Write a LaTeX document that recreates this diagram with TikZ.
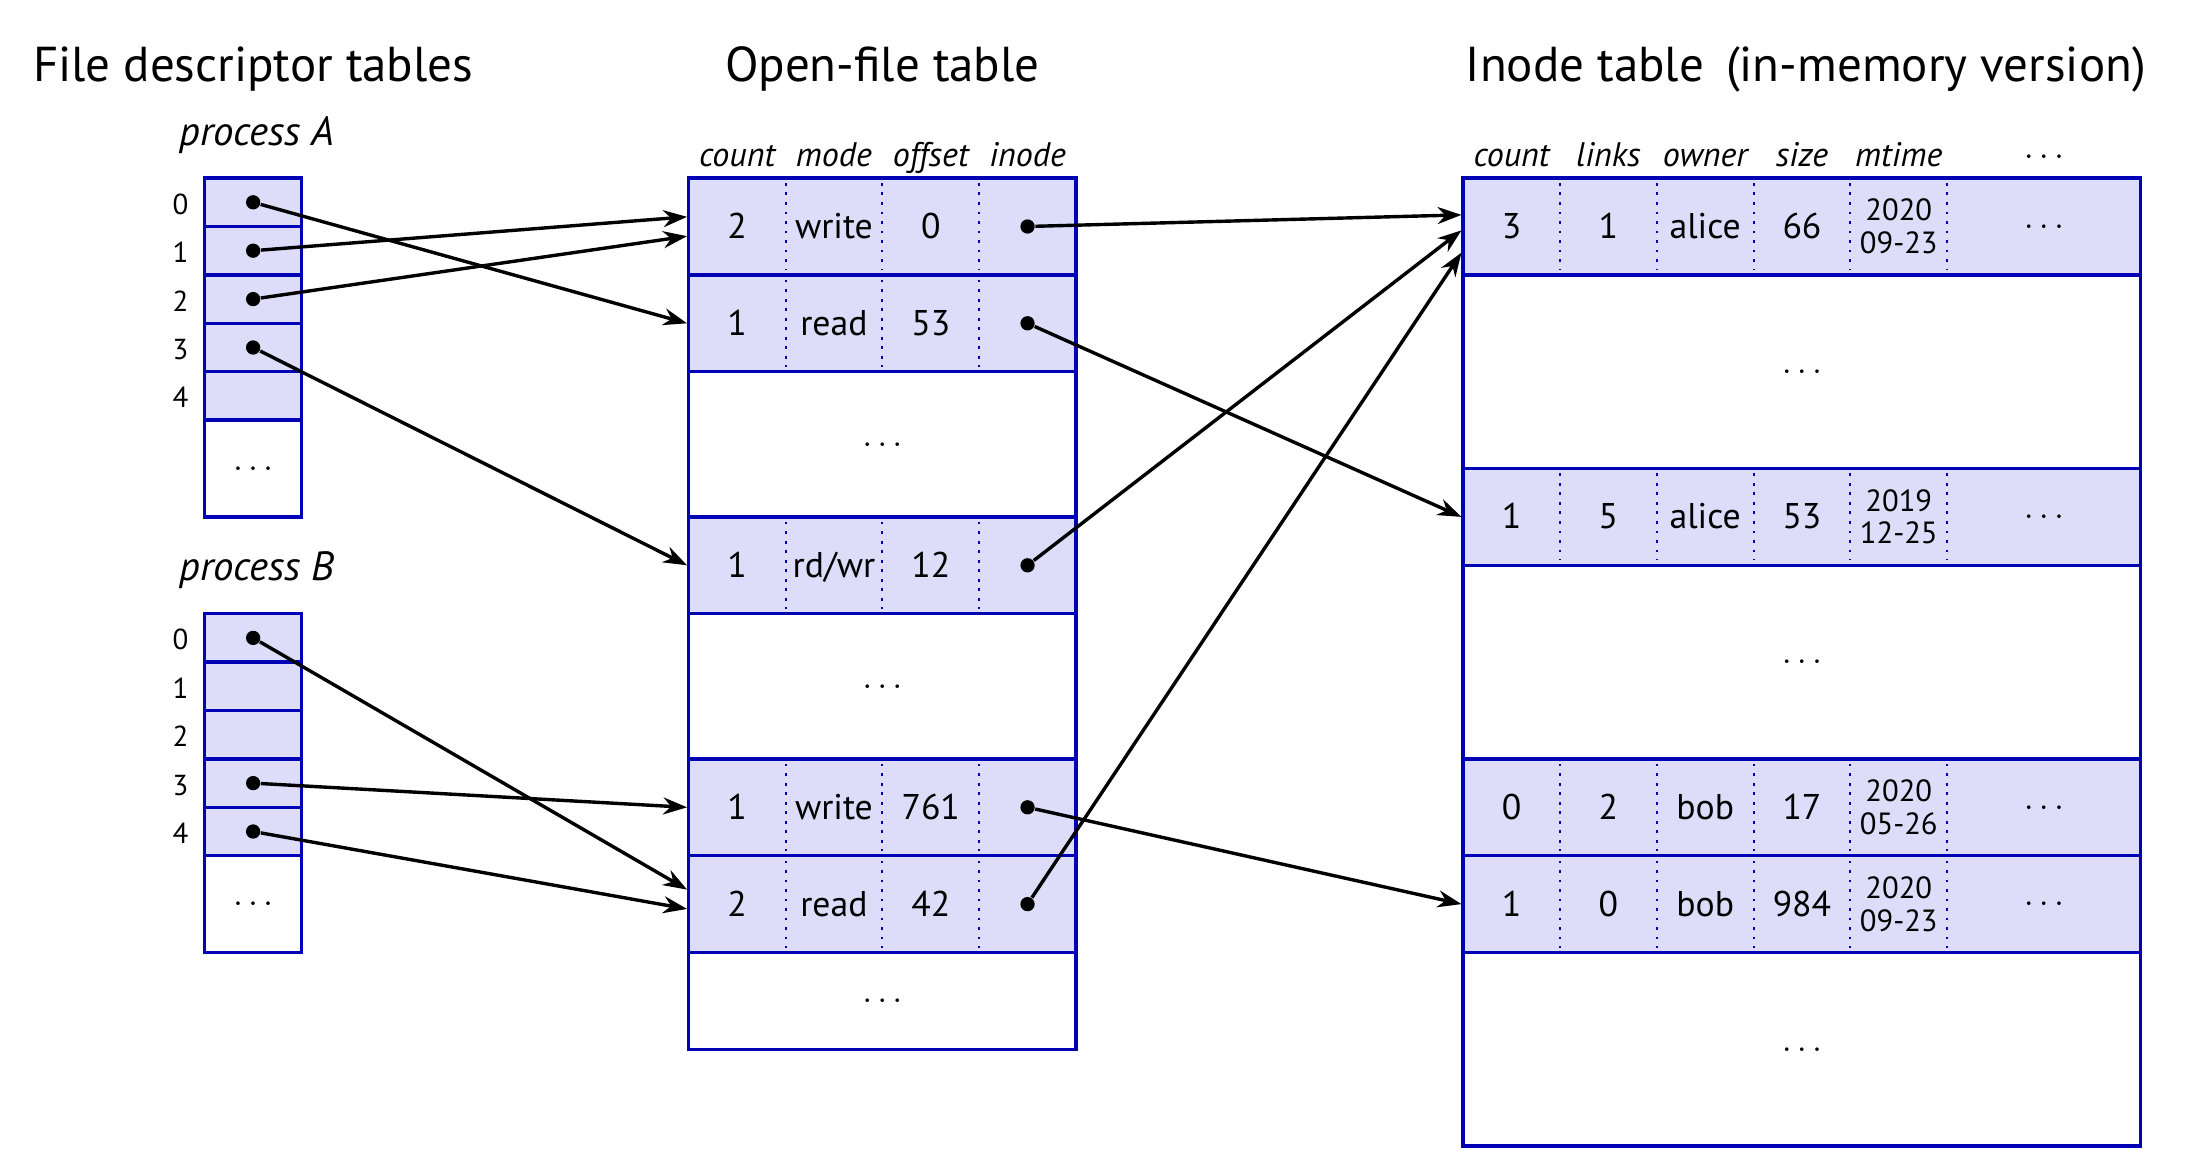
\documentclass[tikz,border=0pt]{standalone}
\usepackage{fontspec}
\setmainfont{PT Sans}
\usetikzlibrary{arrows.meta}
\definecolor{tblue}{RGB}{0,0,180}
\definecolor{tfill}{RGB}{221,221,250}
\tikzset{>={Stealth[length=7pt, width=5pt]}}
\tikzset{
    box/.style={draw=tblue, line width=1pt, inner sep=0pt, minimum height=1cm},
    row/.style={box, fill=tfill},
    sep/.style={draw=tblue, line width=.6pt, dash pattern=on .8pt off 2pt},
    cell/.style={font=\fontsize{10.5}{12}\selectfont, text height=.7em, text depth=0pt, inner sep=0pt},
    num/.style={font=\fontsize{8.5}{10}\selectfont, text height=.7em, text depth=0pt, inner sep=0pt},
    date/.style={font=\fontsize{9}{9.6}\selectfont, align=center, inner sep=0pt},
    ptr/.style={circle, fill, inner sep=0pt, minimum size=4.2pt},
    hd/.style={font=\fontsize{10}{12}\selectfont\itshape, anchor=base},
    pname/.style={font=\fontsize{12}{14}\selectfont\itshape, anchor=base},
    title/.style={font=\fontsize{14.4}{16}\selectfont, anchor=base},
    link/.style={->, line width=1pt},
}
\newcommand{\fdtable}[2]{% name, top
    \foreach \i in {0,...,4}{
        \node[row, minimum width=1cm, minimum height=.5cm] (#1\i) at (.5, #2-.25-.5*\i) {};
        \node[num] (#1n\i) at (-.25, #2-.25-.5*\i) {\i};
    }
    \node[box, minimum width=1cm] (#1x) at (.5, #2-3) {$\dots$};
}
\newcommand{\ofrow}[5]{% name, y, count, mode, offset
    \node[row, minimum width=4cm] (#1) at (7, #2) {};
    \foreach \c in {6,7,8} \draw[sep] (\c, #2+.45) -- (\c, #2-.45);
    \node[cell] (#1c) at (5.5, #2) {#3};
    \node[cell] (#1m) at (6.5, #2) {#4};
    \node[cell] (#1o) at (7.5, #2) {#5};
    \node[ptr] (#1p) at (8.5, #2) {};
}
\newcommand{\inrow}[7]{% name, y, count, links, owner, size, mtime
    \node[row, minimum width=7cm] (#1) at (16.5, #2) {};
    \foreach \c in {14,...,18} \draw[sep] (\c, #2+.45) -- (\c, #2-.45);
    \node[cell] (#1c) at (13.5, #2) {#3};
    \node[cell] (#1l) at (14.5, #2) {#4};
    \node[cell] (#1o) at (15.5, #2) {#5};
    \node[cell] (#1s) at (16.5, #2) {#6};
    \node[date] (#1m) at (17.5, #2) {#7};
    \node (#1x) at (19, #2) {$\dots$};
}

\begin{document}
\begin{tikzpicture}
    \useasboundingbox (-2.115, 1.84) rectangle (20.55, -10.21);
    \node[title] (t1) at (.5, 1) {File descriptor tables};
    \node[title] (t2) at (7, 1) {Open-file table};
    \node[title] (t3) at (16.54, 1) {Inode table\hspace{.45em}(in-memory version)};
    % per-process tables
    \node[pname] (pa) at (.54, .34) {process A};
    \node[pname] (pb) at (.54, -4.16) {process B};
    \fdtable{a}{0}
    \fdtable{b}{-4.5}
    \foreach \i in {0,...,3} \node[ptr] (ap\i) at (a\i) {};
    \foreach \i in {0,3,4} \node[ptr] (bp\i) at (b\i) {};
    % open-file table
    \foreach \x/\t in {5.5/count, 6.5/mode, 7.5/offset, 8.5/inode}
        \node[hd] (oh-\t) at (\x, .12) {\t};
    \ofrow{of1}{-.5}{2}{write}{0}
    \ofrow{of2}{-1.5}{1}{read}{53}
    \node[box, minimum width=4cm, minimum height=1.5cm] (og1) at (7, -2.75) {$\dots$};
    \ofrow{of3}{-4}{1}{rd/wr}{12}
    \node[box, minimum width=4cm, minimum height=1.5cm] (og2) at (7, -5.25) {$\dots$};
    \ofrow{of4}{-6.5}{1}{write}{761}
    \ofrow{of5}{-7.5}{2}{read}{42}
    \node[box, minimum width=4cm] (og3) at (7, -8.5) {$\dots$};
    % inode table
    \foreach \x/\t in {13.5/count, 14.5/links, 15.5/owner, 16.5/size, 17.5/mtime}
        \node[hd] (ih-\t) at (\x, .12) {\t};
    \node (ih-x) at (19, .22) {$\dots$};
    \inrow{in1}{-.5}{3}{1}{alice}{66}{2020\\09-23}
    \node[box, minimum width=7cm, minimum height=2cm] (ig1) at (16.5, -2) {$\dots$};
    \inrow{in2}{-3.5}{1}{5}{alice}{53}{2019\\12-25}
    \node[box, minimum width=7cm, minimum height=2cm] (ig2) at (16.5, -5) {$\dots$};
    \inrow{in3}{-6.5}{0}{2}{bob}{17}{2020\\05-26}
    \inrow{in4}{-7.5}{1}{0}{bob}{984}{2020\\09-23}
    \node[box, minimum width=7cm, minimum height=2cm] (ig3) at (16.5, -9) {$\dots$};
    % pointers
    \draw[link] (ap0) -- (of2.west);
    \draw[link] (ap1) -- ([yshift=1mm]of1.west);
    \draw[link] (ap2) -- ([yshift=-1mm]of1.west);
    \draw[link] (ap3) -- (of3.west);
    \draw[link] (bp0) -- ([yshift=1.5mm]of5.west);
    \draw[link] (bp3) -- (of4.west);
    \draw[link] (bp4) -- ([yshift=-.5mm]of5.west);
    \draw[link] (of1p) -- ([yshift=1.2mm]in1.west);
    \draw[link] (of2p) -- (in2.west);
    \draw[link] (of3p) -- ([yshift=-.4mm]in1.west);
    \draw[link] (of4p) -- (in4.west);
    \draw[link] (of5p) -- ([yshift=-2.7mm]in1.west);
\end{tikzpicture}
\end{document}
